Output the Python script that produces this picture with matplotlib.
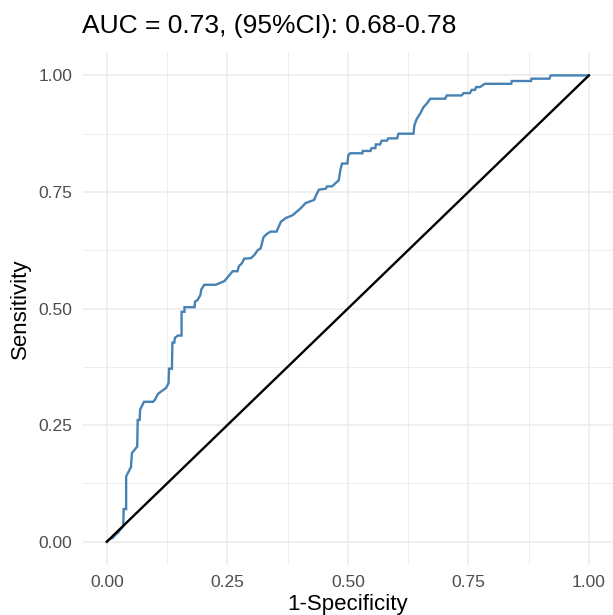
import numpy as np
import matplotlib.pyplot as plt

plt.rcParams['font.family'] = ['Liberation Sans', 'DejaVu Sans']

# ROC curve (1-specificity, sensitivity)
fpr = [0.000, 0.005, 0.012, 0.018, 0.023, 0.028, 0.034, 0.035, 0.040, 0.040,
       0.050, 0.052, 0.063, 0.064, 0.068, 0.069, 0.077, 0.096, 0.100, 0.106,
       0.123, 0.128, 0.129, 0.135, 0.136, 0.140, 0.141, 0.147, 0.155, 0.155,
       0.161, 0.161, 0.182, 0.183, 0.188, 0.194, 0.196, 0.202, 0.226, 0.244,
       0.261, 0.271, 0.274, 0.280, 0.285, 0.299, 0.306, 0.313, 0.319, 0.325,
       0.333, 0.340, 0.352, 0.361, 0.371, 0.385, 0.392, 0.402, 0.412, 0.430,
       0.434, 0.440, 0.454, 0.457, 0.467, 0.481, 0.485, 0.488, 0.499, 0.501,
       0.505, 0.530, 0.531, 0.547, 0.549, 0.557, 0.558, 0.567, 0.570, 0.581,
       0.584, 0.602, 0.605, 0.636, 0.638, 0.643, 0.650, 0.657, 0.664, 0.671,
       0.702, 0.705, 0.736, 0.740, 0.753, 0.757, 0.764, 0.766, 0.774, 0.784,
       0.839, 0.840, 0.880, 0.881, 0.918, 0.921, 1.000]
tpr = [0.000, 0.005, 0.008, 0.015, 0.019, 0.026, 0.033, 0.070, 0.070, 0.140,
       0.160, 0.190, 0.204, 0.261, 0.261, 0.283, 0.300, 0.300, 0.305, 0.317,
       0.330, 0.340, 0.371, 0.371, 0.427, 0.427, 0.437, 0.442, 0.442, 0.493,
       0.493, 0.503, 0.503, 0.515, 0.518, 0.529, 0.541, 0.551, 0.551, 0.559,
       0.580, 0.580, 0.591, 0.597, 0.607, 0.608, 0.615, 0.625, 0.629, 0.653,
       0.661, 0.665, 0.665, 0.686, 0.694, 0.700, 0.706, 0.715, 0.726, 0.733,
       0.743, 0.755, 0.757, 0.762, 0.762, 0.775, 0.800, 0.811, 0.811, 0.829,
       0.833, 0.833, 0.838, 0.838, 0.844, 0.844, 0.852, 0.852, 0.860, 0.860,
       0.865, 0.865, 0.875, 0.875, 0.893, 0.907, 0.918, 0.932, 0.940, 0.950,
       0.950, 0.957, 0.957, 0.962, 0.962, 0.969, 0.969, 0.975, 0.975, 0.982,
       0.982, 0.988, 0.988, 0.993, 0.993, 1.000, 1.000]

ticks = [0.00, 0.25, 0.50, 0.75, 1.00]
tick_labels = ['0.00', '0.25', '0.50', '0.75', '1.00']
title = 'AUC = 0.73, (95%CI): 0.68-0.78'

fig = plt.figure(figsize=(6.13, 6.15), dpi=100)
ax = fig.add_axes([0.135, 0.0813, 0.865, 0.834])

ax.plot(fpr, tpr, color='#4682B4', lw=1.7, solid_joinstyle='miter')
ax.plot([0, 1], [0, 1], color='black', lw=1.7)

ax.set_xlim(-0.05, 1.05)
ax.set_ylim(-0.05, 1.05)
ax.set_xticks(ticks)
ax.set_xticklabels(tick_labels)
ax.set_yticks(ticks)
ax.set_yticklabels(tick_labels)
ax.set_xticks(np.arange(0.125, 1.0, 0.25), minor=True)
ax.set_yticks(np.arange(0.125, 1.0, 0.25), minor=True)

ax.grid(which='major', color='#EBEBEB', lw=1.1)
ax.grid(which='minor', color='#EBEBEB', lw=0.6)
ax.set_axisbelow(True)
for s in ax.spines.values():
    s.set_visible(False)
ax.tick_params(which='both', length=0, labelsize=12.5, labelcolor='#4D4D4D')
ax.tick_params(axis='x', pad=7)
ax.tick_params(axis='y', pad=7.5)

ax.set_xlabel('1-Specificity', fontsize=16, va='baseline')
ax.xaxis.set_label_coords(0.5, -0.0877)
ax.set_ylabel('Sensitivity', fontsize=16, va='center', ha='center')
ax.yaxis.set_label_coords(-0.118, 0.5)
fig.text(0.1333, 0.9465, title, fontsize=19, ha='left', va='baseline')

fig.savefig('out.png', dpi=100)
